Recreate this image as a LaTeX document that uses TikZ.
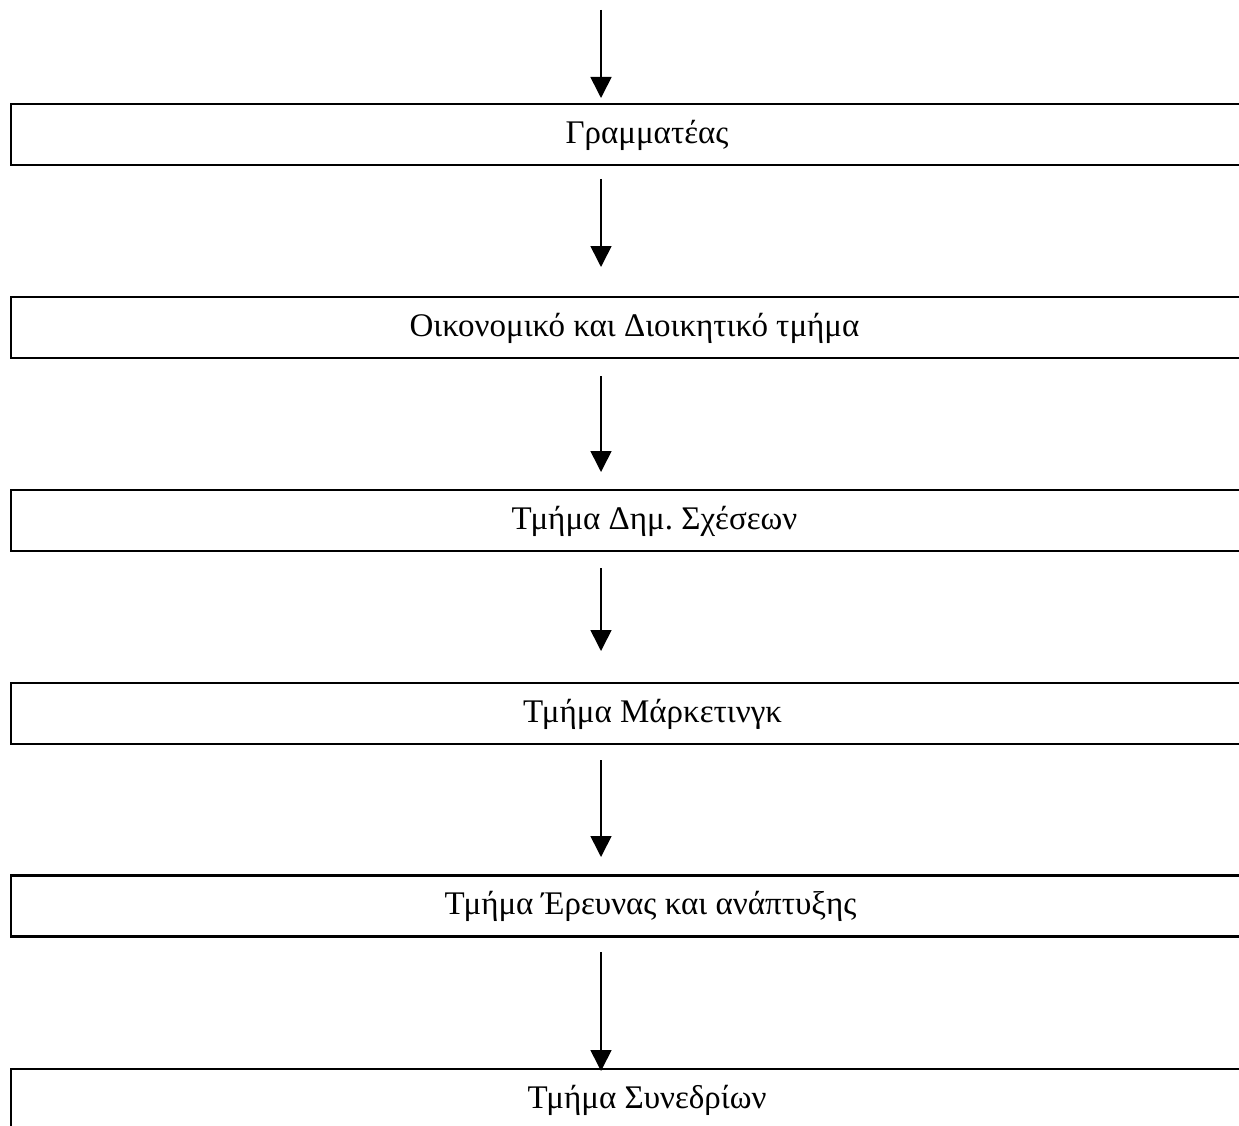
\documentclass[tikz,border=0pt]{standalone}
\usepackage{fontspec}
\setmainfont{Liberation Serif}
\usetikzlibrary{arrows.meta}
\frenchspacing

\tikzset{
  deptbox/.style={draw, line width=2.2pt, minimum width=1275pt, minimum height=61pt,
    inner sep=0pt, outer sep=0pt},
  deptlabel/.style={anchor=base, inner sep=0pt, font=\fontsize{33}{38}\selectfont},
  flow/.style={line width=1.6pt, -{Triangle[length=21pt, width=21pt]}}
}

\begin{document}
\begin{tikzpicture}[x=1pt, y=-1pt]
  \useasboundingbox (0,0) rectangle (1239,1126);
  \clip (0,0) rectangle (1239,1126);

  % department boxes (they run past the right edge)
  \node[deptbox] (b1) at (648.5,134.75) {};
  \node[deptbox] (b2) at (648.5,327.5) {};
  \node[deptbox] (b3) at (648.5,520.5) {};
  \node[deptbox] (b4) at (648.5,713.5) {};
  \node[deptbox] (b5) at (648.5,906) {};
  \node[deptbox] (b6) at (648.5,1099.5) {};

  % box titles
  \node[deptlabel] (t1) at ([xshift=-1.5pt,yshift=-39pt]b1.north) {Γραμματέας};
  \node[deptlabel] (t2) at ([xshift=-14pt,yshift=-39pt]b2.north) {Οικονομικό και Διοικητικό τμήμα};
  \node[deptlabel] (t3) at ([xshift=6pt,yshift=-39pt]b3.north) {Τμήμα Δημ. Σχέσεων};
  \node[deptlabel] (t4) at ([xshift=4pt,yshift=-39pt]b4.north) {Τμήμα Μάρκετινγκ};
  \node[deptlabel] (t5) at ([xshift=2pt,yshift=-39pt]b5.north) {Τμήμα Έρευνας και ανάπτυξης};
  \node[deptlabel] (t6) at ([xshift=-1.5pt,yshift=-39pt]b6.north) {Τμήμα Συνεδρίων};

  % arrow end points
  \coordinate (s1) at (601,10);   \coordinate (e1) at (601,98);
  \coordinate (s2) at (601,179);  \coordinate (e2) at (601,267);
  \coordinate (s3) at (601,376);  \coordinate (e3) at (601,472);
  \coordinate (s4) at (601,568);  \coordinate (e4) at (601,651);
  \coordinate (s5) at (601,760);  \coordinate (e5) at (601,857);
  \coordinate (s6) at (601,952);  \coordinate (e6) at (601,1071);

  \draw[flow] (s1) -- (e1);
  \draw[flow] (s2) -- (e2);
  \draw[flow] (s3) -- (e3);
  \draw[flow] (s4) -- (e4);
  \draw[flow] (s5) -- (e5);
  \draw[flow] (s6) -- (e6);
\end{tikzpicture}
\end{document}
